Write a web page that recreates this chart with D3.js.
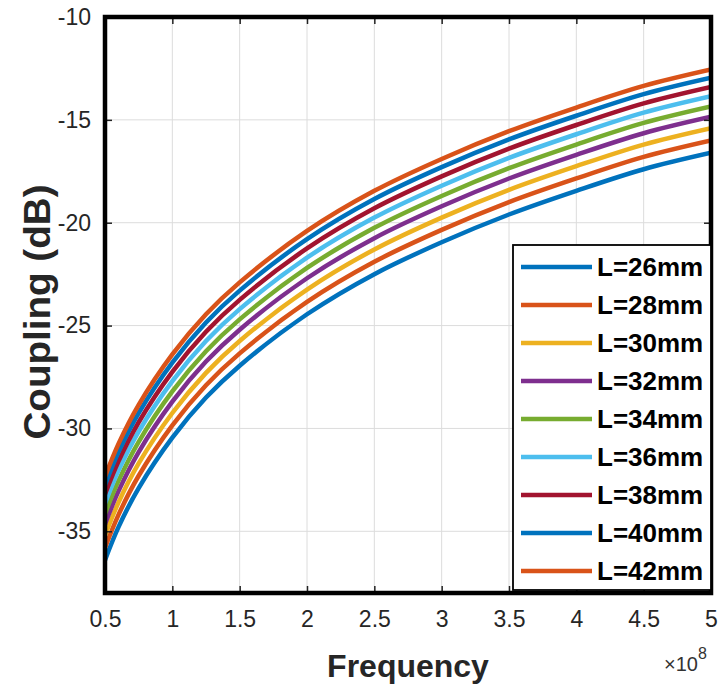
<!DOCTYPE html>
<html>
<head>
<meta charset="utf-8">
<script src="https://cdn.jsdelivr.net/npm/d3@7"></script>
<style>
html,body{margin:0;padding:0;background:#fff;}
svg{display:block;font-family:"Liberation Sans",Arial,Helvetica,sans-serif;}
</style>
</head>
<body>
<svg id="chart" width="722" height="688"></svg>
<script>
// ---- data ----
const freqs = [0.5, 0.6, 0.75, 1, 1.25, 1.5, 2, 2.5, 3, 3.5, 4, 4.5, 5]; // x 1e8 Hz
const seriesNames = ["L=26mm","L=28mm","L=30mm","L=32mm","L=34mm","L=36mm","L=38mm","L=40mm","L=42mm"];
const L26 = [-36.4, -34.8, -32.9, -30.45, -28.5, -26.95, -24.45, -22.5, -20.95, -19.6, -18.45, -17.4, -16.6];
const L28 = [-35.8, -34.2, -32.3, -29.85, -27.9, -26.35, -23.85, -21.9, -20.35, -19.0, -17.85, -16.8, -16.0];
const L30 = [-35.2, -33.6, -31.7, -29.25, -27.3, -25.75, -23.25, -21.3, -19.75, -18.4, -17.25, -16.2, -15.4];
const L32 = [-34.65, -33.05, -31.15, -28.7, -26.75, -25.2, -22.7, -20.75, -19.2, -17.85, -16.7, -15.65, -14.85];
const L34 = [-34.15, -32.55, -30.65, -28.2, -26.25, -24.7, -22.2, -20.25, -18.7, -17.35, -16.2, -15.15, -14.35];
const L36 = [-33.65, -32.05, -30.15, -27.7, -25.75, -24.2, -21.7, -19.75, -18.2, -16.85, -15.7, -14.65, -13.85];
const L38 = [-33.2, -31.6, -29.7, -27.25, -25.3, -23.75, -21.25, -19.3, -17.75, -16.4, -15.25, -14.2, -13.4];
const L40 = [-32.75, -31.15, -29.25, -26.8, -24.85, -23.3, -20.8, -18.85, -17.3, -15.95, -14.8, -13.75, -12.95];
const L42 = [-32.35, -30.75, -28.85, -26.4, -24.45, -22.9, -20.4, -18.45, -16.9, -15.55, -14.4, -13.35, -12.55];
const seriesValues = [L26, L28, L30, L32, L34, L36, L38, L40, L42];
const colors = ["#0072BD","#D95319","#EDB120","#7E2F8E","#77AC30","#4DBEEE","#A2142F","#0072BD","#D95319"];
const xTicks = [0.5, 1, 1.5, 2, 2.5, 3, 3.5, 4, 4.5, 5];
const xTickLabels = ["0.5","1","1.5","2","2.5","3","3.5","4","4.5","5"];
const yTicks = [-35, -30, -25, -20, -15, -10];
const yTickLabels = ["-35","-30","-25","-20","-15","-10"];

// ---- layout ----
const svg = d3.select("#chart");
const L = 105, R = 711, T = 17, B = 593;
const x = d3.scaleLinear().domain([0.5, 5]).range([L, R]);
const y = d3.scaleLinear().domain([-38, -10]).range([B, T]);

// grid
const g = svg.append("g");
g.selectAll("line.vg").data(xTicks).enter().append("line")
  .attr("x1", d => x(d)).attr("x2", d => x(d)).attr("y1", T).attr("y2", B)
  .attr("stroke", "#dcdcdc").attr("stroke-width", 1);
g.selectAll("line.hg").data(yTicks).enter().append("line")
  .attr("x1", L).attr("x2", R).attr("y1", d => y(d)).attr("y2", d => y(d))
  .attr("stroke", "#dcdcdc").attr("stroke-width", 1);

// curves
const line = d3.line().x((d, i) => x(freqs[i])).y(d => y(d)).curve(d3.curveCatmullRom.alpha(0.5));
svg.append("defs").append("clipPath").attr("id", "clip")
  .append("rect").attr("x", L).attr("y", T).attr("width", R - L).attr("height", B - T);
const curves = svg.append("g").attr("clip-path", "url(#clip)");
seriesValues.forEach((vals, k) => {
  curves.append("path").attr("d", line(vals)).attr("fill", "none")
    .attr("stroke", colors[k]).attr("stroke-width", 4.5).attr("stroke-linejoin", "round");
});

// axes (ticks inward)
const tickLen = 7;
const axX = d3.axisBottom(x).tickValues(xTicks).tickFormat((d, i) => xTickLabels[i]).tickSizeInner(-tickLen).tickSizeOuter(0).tickPadding(18);
const axXtop = d3.axisTop(x).tickValues(xTicks).tickFormat("").tickSizeInner(-tickLen).tickSizeOuter(0);
const axY = d3.axisLeft(y).tickValues(yTicks).tickFormat((d, i) => yTickLabels[i]).tickSizeInner(-tickLen).tickSizeOuter(0).tickPadding(14);
const axYr = d3.axisRight(y).tickValues(yTicks).tickFormat("").tickSizeInner(-tickLen).tickSizeOuter(0);

function styleAxis(sel) {
  sel.select(".domain").remove();
  sel.selectAll(".tick line").attr("stroke", "#222").attr("stroke-width", 1.5);
  sel.selectAll(".tick text").attr("fill", "#262626").style("font-size", "23px")
    .style("font-family", '"Liberation Sans",Arial,sans-serif');
}
svg.append("g").attr("transform", `translate(0,${B})`).call(axX).call(styleAxis);
svg.append("g").attr("transform", `translate(0,${T})`).call(axXtop).call(styleAxis);
svg.append("g").attr("transform", `translate(${L},0)`).call(axY).call(styleAxis);
svg.append("g").attr("transform", `translate(${R},0)`).call(axYr).call(styleAxis);

// frame
svg.append("rect").attr("x", L).attr("y", T).attr("width", R - L).attr("height", B - T)
  .attr("fill", "none").attr("stroke", "#000").attr("stroke-width", 4.5);

// legend
const lg = svg.append("g");
const lgX = 513, lgY = 245, lgW = R - 513, lgH = 345;
lg.append("rect").attr("x", lgX).attr("y", lgY).attr("width", lgW).attr("height", lgH)
  .attr("fill", "#fff").attr("stroke", "#000").attr("stroke-width", 1.8);
seriesNames.forEach((name, k) => {
  const cy = 267 + k * 38;
  lg.append("line").attr("x1", 521).attr("x2", 592).attr("y1", cy).attr("y2", cy)
    .attr("stroke", colors[k]).attr("stroke-width", 4.5);
  lg.append("text").attr("x", 597).attr("y", cy).attr("dy", "0.36em")
    .attr("fill", "#000").style("font-size", "26px").style("font-weight", "bold").text(name);
});

// axis labels
svg.append("text").attr("x", 408).attr("y", 677).attr("text-anchor", "middle")
  .style("font-size", "32px").style("font-weight", "bold").attr("fill", "#262626").text("Frequency");
svg.append("text").attr("transform", "translate(50,312) rotate(-90)").attr("text-anchor", "middle")
  .attr("textLength", 255).attr("lengthAdjust", "spacingAndGlyphs")
  .style("font-size", "36px").style("font-weight", "bold").attr("fill", "#262626").text("Coupling (dB)");
const ex = svg.append("text").attr("x", 664).attr("y", 671).attr("fill", "#333").style("font-size", "20px");
ex.append("tspan").text("\u00d710");
ex.append("tspan").attr("dy", -12).style("font-size", "16px").text("8");
</script>
</body>
</html>
